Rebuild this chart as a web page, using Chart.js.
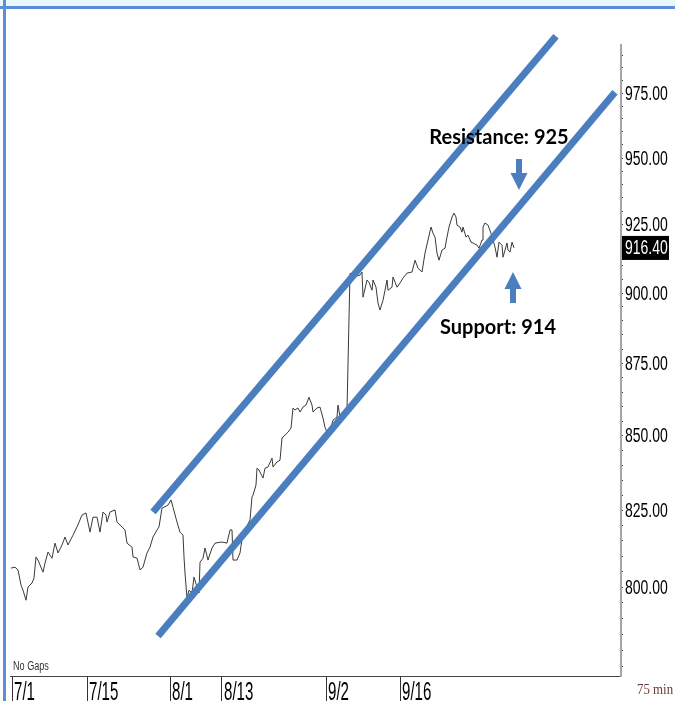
<!DOCTYPE html>
<html>
<head>
<meta charset="utf-8">
<script src="https://cdn.jsdelivr.net/npm/chart.js@4"></script>
<style>
  html, body { margin: 0; padding: 0; background: #fff; }
  canvas { display: block; }
</style>
</head>
<body>
<canvas id="chart" width="675" height="701"></canvas>
<script>
// 75-min bars (no gaps), counted from the left edge of the plot
const bars = [
  1, 5, 8, 11, 13, 16, 18, 22, 24, 26, 28, 33, 35, 38, 42, 45, 48, 52, 55, 58,
  63, 67, 72, 76, 80, 83, 87, 90, 93, 96, 97, 100, 105, 107, 112, 115, 117, 122, 123, 127,
  130, 133, 137, 140, 143, 147, 149, 152, 154, 158, 161, 163, 167, 170, 173, 174, 175, 177, 179, 182,
  184, 187, 189, 190, 193, 195, 198, 202, 205, 210, 213, 217, 220, 222, 223, 227, 230, 233, 235, 240,
  242, 243, 246, 247, 249, 253, 255, 258, 262, 263, 267, 270, 272, 275, 278, 281, 283, 285, 288, 290,
  293, 296, 299, 302, 303, 307, 310, 313, 315, 317, 320, 323, 327, 328, 330, 333, 337, 340, 346, 350,
  352, 353, 357, 359, 362, 363, 366, 368, 370, 373, 375, 377, 378, 382, 383, 387, 390, 393, 397, 402,
  405, 408, 412, 415, 418, 421, 423, 425, 427, 429, 432, 435, 437, 439, 442, 444, 446, 447, 450, 452,
  453, 456, 458, 461, 463, 467, 469, 472, 473, 475, 478, 481, 483, 485, 487, 489, 492, 493, 495, 497,
  498, 500, 502, 504,
];
const closes = [
  806.1, 806.4, 805.5, 800.6, 799.0, 795.8, 800.0, 801.3, 802.9, 809.7, 808.7, 804.8, 807.7, 811.3, 809.3, 814.2, 811.0, 813.6, 816.2, 813.6,
  816.8, 819.5, 823.4, 824.1, 817.8, 822.7, 822.7, 817.8, 824.4, 823.4, 821.1, 824.4, 825.1, 821.1, 819.5, 818.5, 814.2, 812.9, 809.7, 809.3,
  805.5, 806.4, 811.0, 812.9, 816.2, 818.5, 819.5, 825.7, 826.0, 826.7, 828.4, 826.0, 821.1, 817.8, 816.8, 809.7, 804.5, 796.5, 799.0, 798.1,
  803.2, 800.0, 798.1, 808.0, 809.3, 812.6, 808.7, 812.6, 814.2, 814.5, 814.5, 814.2, 818.5, 818.5, 808.7, 808.7, 811.0, 817.8, 818.5, 821.8,
  829.4, 830.0, 833.4, 839.0, 838.4, 835.7, 839.0, 839.4, 842.4, 839.4, 841.1, 841.7, 849.2, 850.2, 851.2, 852.6, 859.5, 858.8, 859.5, 858.1,
  859.8, 860.5, 863.2, 860.5, 858.1, 859.5, 859.8, 856.0, 852.9, 851.2, 851.9, 855.3, 856.4, 860.5, 856.4, 857.7, 858.8, 907.2, 906.1, 906.5,
  907.6, 898.5, 904.7, 903.9, 901.0, 904.7, 902.1, 896.4, 893.9, 897.4, 901.0, 904.7, 901.0, 902.1, 905.8, 902.1, 903.6, 905.4, 907.2, 907.6,
  911.9, 909.0, 907.6, 914.5, 919.3, 924.1, 921.8, 920.4, 914.5, 911.9, 915.6, 916.3, 920.4, 924.1, 927.8, 929.3, 927.8, 924.8, 924.1, 922.2,
  924.1, 920.4, 921.1, 918.5, 918.2, 917.4, 916.3, 919.3, 924.1, 925.6, 924.8, 921.8, 919.3, 916.7, 913.0, 918.5, 917.4, 913.0, 915.6, 918.2,
  915.6, 914.9, 918.5, 916.4,
];

// trend channel end points
const upperBars = [143, 546];
const upperPrices = [824.4, 997.5];
const lowerBars = [148, 605];
const lowerPrices = [784.5, 975.4];

const dateBars = [2, 77, 160, 212, 316, 390];
const dateLabels = ["7/1", "7/15", "8/1", "8/13", "9/2", "9/16"];
const priceTicks = [800, 825, 850, 875, 900, 925, 950, 975];

const noteLabels = ["Resistance: 925", "Support: 914"];
const noteBars = [509, 503];
const notePrices = [937.9, 907.6];
const noteDirs = ["down", "up"];

const BLUE = "#4a7ebf";
const SANS = '"Liberation Sans", Arial, sans-serif';

const toPoints = (xs, ys) => xs.map((x, i) => ({ x, y: ys[i] }));
const lastClose = closes[closes.length - 1];

// the source chart uses a very condensed face, so squeeze text horizontally
const narrowText = (ctx, text, x, y, sx) => {
  ctx.save();
  ctx.translate(x, y);
  ctx.scale(sx, 1);
  ctx.fillText(text, 0, 0);
  ctx.restore();
};

const drawArrow = (ctx, tx, ty, dir) => {
  const s = dir === "down" ? -1 : 1;
  ctx.beginPath();
  ctx.moveTo(tx, ty);
  ctx.lineTo(tx - 8.5, ty + s * 17);
  ctx.lineTo(tx - 3, ty + s * 17);
  ctx.lineTo(tx - 3, ty + s * 31);
  ctx.lineTo(tx + 3, ty + s * 31);
  ctx.lineTo(tx + 3, ty + s * 17);
  ctx.lineTo(tx + 8.5, ty + s * 17);
  ctx.closePath();
  ctx.fill();
};

const decorations = {
  id: "decorations",
  beforeDraw(chart) {
    const { ctx, width, height } = chart;
    ctx.save();
    ctx.fillStyle = "#fff";
    ctx.fillRect(0, 0, width, height);
    ctx.fillStyle = "#e8f7fc";
    ctx.fillRect(0, 0, width, 6);
    ctx.fillStyle = "#5a8ed6";
    ctx.fillRect(0, 6, width, 3);
    ctx.fillRect(3, 0, 3, height);
    ctx.restore();
  },
  afterDraw(chart) {
    const { ctx, chartArea, scales: { x, y } } = chart;
    ctx.save();
    ctx.textAlign = "left";

    // axis labels
    ctx.fillStyle = "#000";
    ctx.textBaseline = "middle";
    ctx.font = `20px ${SANS}`;
    priceTicks.forEach((v) => {
      narrowText(ctx, v.toFixed(2), chartArea.right + 4, y.getPixelForValue(v) + 1, 0.7);
    });
    ctx.textBaseline = "alphabetic";
    ctx.font = `26px ${SANS}`;
    dateBars.forEach((b, i) => {
      narrowText(ctx, dateLabels[i], x.getPixelForValue(b) + 2, 700, 0.58);
    });

    // last price tag
    const py = y.getPixelForValue(lastClose);
    ctx.fillStyle = "#000";
    ctx.fillRect(chartArea.right + 1, py - 12, 47, 24);
    ctx.fillStyle = "#fff";
    ctx.textBaseline = "middle";
    ctx.font = `20px ${SANS}`;
    narrowText(ctx, lastClose.toFixed(2), chartArea.right + 4, py + 1, 0.7);

    ctx.fillStyle = "#333";
    ctx.font = `13px ${SANS}`;
    narrowText(ctx, "No Gaps", chartArea.left + 3, chartArea.bottom - 10, 0.7);

    ctx.fillStyle = "#6b3a3a";
    ctx.font = '14px "Liberation Serif", serif';
    narrowText(ctx, "75 min", chartArea.right + 16, chartArea.bottom + 14, 0.92);

    // support / resistance notes
    ctx.textAlign = "center";
    ctx.font = 'bold 20px Lato, "Liberation Sans", sans-serif';
    noteLabels.forEach((label, i) => {
      const tx = x.getPixelForValue(noteBars[i]);
      const ty = y.getPixelForValue(notePrices[i]);
      ctx.fillStyle = BLUE;
      drawArrow(ctx, tx, ty, noteDirs[i]);
      ctx.fillStyle = "#000";
      const dy = noteDirs[i] === "down" ? -52 : 56;
      ctx.fillText(label, tx + (noteDirs[i] === "down" ? -20 : -15), ty + dy);
    });
    ctx.restore();
  },
};

new Chart(document.getElementById("chart"), {
  type: "line",
  data: {
    datasets: [
      {
        label: "upper",
        data: toPoints(upperBars, upperPrices),
        borderColor: BLUE,
        borderWidth: 7,
        pointRadius: 0,
        clip: false,
      },
      {
        label: "lower",
        data: toPoints(lowerBars, lowerPrices),
        borderColor: BLUE,
        borderWidth: 7,
        pointRadius: 0,
        clip: false,
      },
      {
        label: "close",
        data: toPoints(bars, closes),
        borderColor: "#3a3a3a",
        borderWidth: 1,
        pointRadius: 0,
        tension: 0,
      },
    ],
  },
  options: {
    responsive: false,
    animation: false,
    layout: { padding: { left: 10, top: 45, right: 0, bottom: 0 } },
    plugins: {
      legend: { display: false },
      tooltip: { enabled: false },
    },
    scales: {
      x: {
        type: "linear",
        min: 0,
        max: 611,
        afterFit: (scale) => {
          scale.height = 25;
        },
        afterBuildTicks: (scale) => {
          scale.ticks = dateBars.map((value) => ({ value }));
        },
        ticks: { display: false },
        grid: { drawOnChartArea: false, tickLength: 25, color: "#333" },
        border: { color: "#444", width: 1 },
      },
      y: {
        type: "logarithmic",
        position: "right",
        min: 772,
        max: 994,
        afterFit: (scale) => {
          scale.width = 54;
        },
        afterBuildTicks: (scale) => {
          const ticks = [];
          for (let v = 775; v <= 990; v += 5) ticks.push({ value: v });
          scale.ticks = ticks;
        },
        ticks: { display: false },
        grid: { drawOnChartArea: false, tickLength: 2, color: "#333" },
        border: { color: "#a6a6a6", width: 2 },
      },
    },
  },
  plugins: [decorations],
});
</script>
</body>
</html>
